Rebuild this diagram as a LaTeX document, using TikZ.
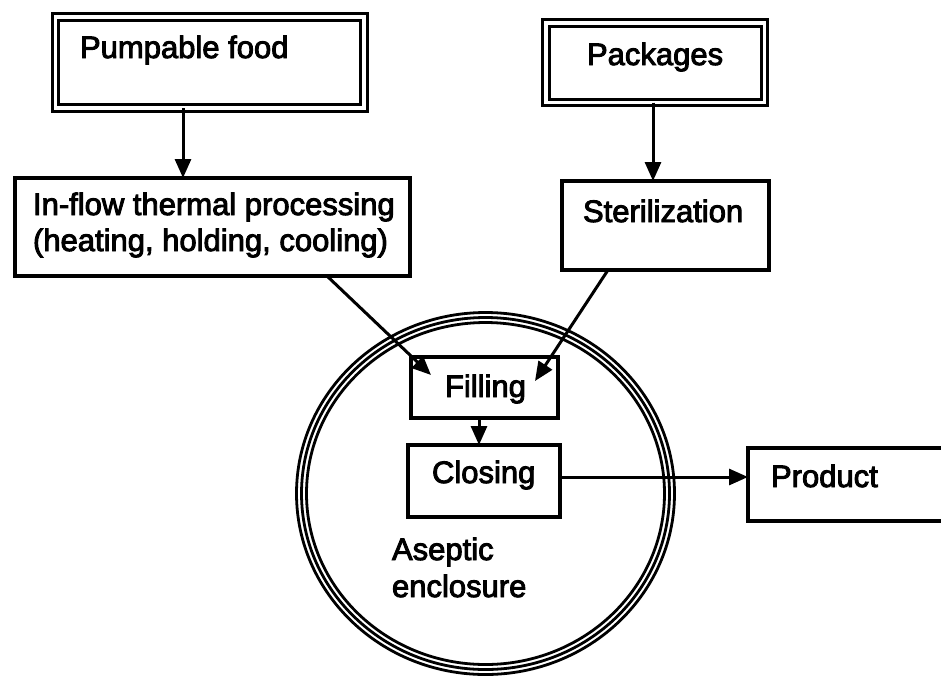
\documentclass[tikz,border=0pt]{standalone}
\usepackage{fontspec}
\newfontfamily\lbl[FakeBold=3]{Liberation Sans}
\usetikzlibrary{arrows.meta,calc}
\tikzset{
  box/.style={draw, line width=4pt, inner sep=0pt, outer sep=0pt, anchor=north west},
  dbox/.style={draw, double, line width=3pt, double distance=3.6pt, inner sep=0pt, outer sep=0pt, anchor=north west},
  txt/.style={anchor=base west, inner sep=0pt, outer sep=0pt, font=\lbl\fontsize{31}{36}\selectfont},
  arr/.style={line width=3pt, -{Triangle[length=19pt,width=16pt]}},
  ring/.style={line width=2.8pt}
}
\begin{document}
\begin{tikzpicture}[x=1pt,y=-1pt]
\clip (0,0) rectangle (941,681);
\fill[white] (0,0) rectangle (941,681);
% enclosure rings
\draw[ring] (485.5,493.5) ellipse [x radius=189pt, y radius=181pt];
\draw[ring] (485.5,493.5) ellipse [x radius=184pt, y radius=176pt];
\draw[ring] (485.5,493.5) ellipse [x radius=179pt, y radius=171pt];
% boxes
\node[dbox, minimum width=308.5pt, minimum height=91pt] (pump) at (55.5,17) {};
\node[dbox, minimum width=218.5pt, minimum height=79.5pt] (pack) at (546,23) {};
\node[box, minimum width=395pt, minimum height=98pt] (inflow) at (15,178) {};
\node[box, minimum width=207pt, minimum height=89pt] (ster) at (562,181) {};
\node[box, minimum width=147pt, minimum height=61pt] (fill) at (411,357) {};
\node[box, minimum width=152pt, minimum height=72pt] (close) at (408,445) {};
\node[box, minimum width=240pt, minimum height=73pt] (prod) at (748,448) {};
% texts
\node[txt] (tpump) at (80,58) {Pumpable food};
\node[txt] (tpack) at (587,65) {Packages};
\node[txt] (tin1) at (33,215) {In-flow thermal processing};
\node[txt] (tin2) at (33,251) {(heating, holding, cooling)};
\node[txt] (tster) at (583,222) {Sterilization};
\node[txt] (tfill) at (445,397) {Filling};
\node[txt] (tclose) at (432,483) {Closing};
\node[txt] (tprod) at (771,487) {Product};
\node[txt] (tas1) at (392,560) {Aseptic};
\node[txt] (tas2) at (392,597) {enclosure};
% connector helpers
\coordinate (xa) at (183,0);
\coordinate (xb) at (653,0);
\coordinate (xc) at (479,0);
\coordinate (ya) at (0,477);
\coordinate (s1) at (327,277);
\coordinate (e1) at (431,375);
\coordinate (s2) at (608,270);
\coordinate (e2) at (535,381);
% connectors
\draw[arr] (pump.south -| xa) -- (inflow.north -| xa);
\draw[arr] (pack.south -| xb) -- (ster.north -| xb);
\draw[arr] (inflow.south -| s1) -- (e1);
\draw[arr] (ster.south -| s2) -- (e2);
\draw[arr] (fill.south -| xc) -- (close.north -| xc);
\draw[arr] (close.east |- ya) -- (prod.west |- ya);
\end{tikzpicture}
\end{document}
